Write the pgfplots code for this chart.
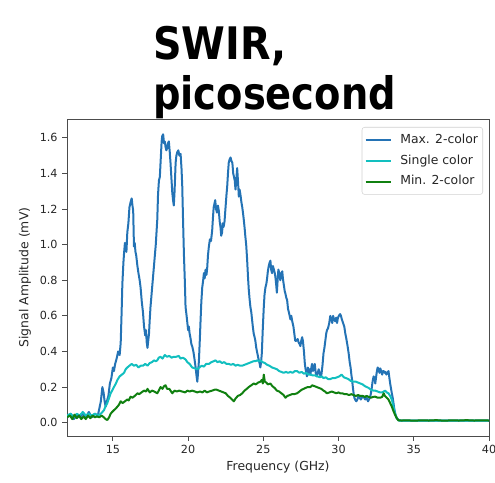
\documentclass[border=0pt]{standalone}
\usepackage{pgfplots}
\pgfplotsset{compat=1.18}
\usepackage{fontspec}
\setmainfont{DejaVu Sans}
\usepackage{graphicx}
\definecolor{cmax}{HTML}{2473B5}
\definecolor{csingle}{HTML}{12BFBF}
\definecolor{cmin}{HTML}{108010}
\definecolor{spine}{gray}{0.3}
\begin{document}
\begin{tikzpicture}
\begin{axis}[
  scale only axis,
  width=316.5pt, height=237.75pt,
  xmin=11.95, xmax=40, ymin=-0.075, ymax=1.706,
  xtick={15,20,25,30,35,40},
  ytick={0,0.2,0.4,0.6,0.8,1.0,1.2,1.4,1.6},
  yticklabel style={/pgf/number format/.cd, fixed, fixed zerofill, precision=1},
  /pgf/number format/assume math mode=true,
  tick label style={font=\fontsize{8.4}{10}\selectfont, text=black!85},
  label style={font=\fontsize{9.3}{11}\selectfont, text=black!85},
  xtick pos=bottom, ytick pos=left,
  tick align=outside,
  major tick length=3.5pt,
  every tick/.style={spine, line width=0.6pt},
  axis line style={spine, line width=0.7pt},
  xlabel={Frequency (GHz)},
  ylabel={Signal Amplitude (mV)},
  xlabel style={at={(axis description cs:0.5,-0.109)}, anchor=base},
  ylabel style={at={(axis description cs:-0.0995,0.5)}, anchor=center, rotate=0},
  legend style={at={(rel axis cs:0.9858,0.9748)}, anchor=north east,
    draw=black!18, rounded corners=2pt, fill=white,
    font=\fontsize{9.3}{11}\selectfont, text=black!85,
    inner xsep=2pt, inner ysep=3.5pt, row sep=3.4pt,
    nodes={inner sep=1.5pt, text height=7pt, text depth=2.2pt}},
  legend cell align=left,
  /tikz/every odd column/.append style={column sep=5pt},
  legend image code/.code={\draw[#1] (0pt,0pt) -- (18.75pt,0pt);},
  every axis plot/.append style={line width=1.5pt, line join=round},
]
\addplot[cmax] coordinates {
(11.95,0.03)(12.2,0.05)(12.4,0.02)(12.6,0.04)(12.8,0.03)(13.0,0.05)(13.2,0.03)(13.4,0.06)(13.6,0.03)(13.8,0.05)
(14.0,0.04)(14.1,0.08)(14.2,0.12)(14.3,0.20)(14.38,0.17)(14.45,0.12)(14.52,0.09)(14.6,0.12)(14.7,0.15)(14.8,0.22)
(14.9,0.25)(15.0,0.31)(15.07,0.29)(15.15,0.33)(15.25,0.36)(15.35,0.40)(15.45,0.38)(15.52,0.45)(15.58,0.62)(15.63,0.78)
(15.7,0.90)(15.74,0.95)(15.8,1.01)(15.85,0.98)(15.9,0.96)(15.96,1.07)(16.03,1.12)(16.1,1.21)(16.18,1.24)(16.25,1.26)
(16.3,1.22)(16.35,1.19)(16.4,0.99)(16.45,1.01)(16.5,0.96)(16.55,0.94)(16.63,0.88)(16.7,0.84)(16.78,0.80)(16.84,0.76)
(16.92,0.68)(17.0,0.62)(17.07,0.54)(17.15,0.49)(17.2,0.52)(17.25,0.45)(17.3,0.42)(17.35,0.46)(17.4,0.50)(17.45,0.58)
(17.5,0.65)(17.6,0.75)(17.73,0.88)(17.85,1.00)(17.95,1.14)(18.0,1.28)(18.06,1.36)(18.12,1.38)(18.18,1.48)(18.24,1.58)
(18.28,1.61)(18.34,1.62)(18.4,1.57)(18.45,1.58)(18.5,1.55)(18.55,1.53)(18.6,1.54)(18.66,1.57)(18.72,1.58)(18.78,1.52)
(18.83,1.46)(18.9,1.36)(18.95,1.29)(19.0,1.25)(19.05,1.22)(19.1,1.30)(19.17,1.46)(19.22,1.50)(19.28,1.52)(19.35,1.53)
(19.42,1.50)(19.5,1.51)(19.56,1.43)(19.61,1.33)(19.66,1.15)(19.72,0.95)(19.78,0.80)(19.83,0.65)(19.9,0.60)(19.95,0.56)
(20.0,0.52)(20.05,0.54)(20.1,0.50)(20.15,0.48)(20.22,0.44)(20.27,0.43)(20.35,0.40)(20.42,0.36)(20.5,0.31)(20.55,0.27)
(20.61,0.23)(20.66,0.28)(20.72,0.35)(20.78,0.47)(20.83,0.58)(20.88,0.68)(20.94,0.76)(21.0,0.80)(21.05,0.84)(21.1,0.81)
(21.16,0.86)(21.22,0.83)(21.27,0.87)(21.32,0.94)(21.38,0.99)(21.45,1.03)(21.52,1.02)(21.6,1.08)(21.65,1.15)(21.7,1.21)
(21.75,1.23)(21.8,1.25)(21.86,1.20)(21.92,1.18)(21.98,1.22)(22.04,1.19)(22.1,1.13)(22.15,1.10)(22.2,1.05)(22.26,1.07)
(22.3,1.12)(22.36,1.10)(22.42,1.13)(22.48,1.20)(22.55,1.28)(22.6,1.33)(22.65,1.40)(22.7,1.46)(22.76,1.48)(22.82,1.49)
(22.88,1.47)(22.94,1.46)(23.0,1.40)(23.05,1.38)(23.1,1.36)(23.15,1.31)(23.2,1.36)(23.26,1.43)(23.32,1.35)(23.37,1.27)
(23.42,1.31)(23.48,1.28)(23.54,1.24)(23.6,1.21)(23.66,1.17)(23.7,1.14)(23.76,1.09)(23.8,1.05)(23.86,1.00)(23.92,0.92)
(23.98,0.82)(24.03,0.75)(24.08,0.70)(24.14,0.65)(24.2,0.62)(24.25,0.58)(24.3,0.54)(24.36,0.50)(24.42,0.48)(24.47,0.46)
(24.53,0.42)(24.6,0.39)(24.65,0.37)(24.7,0.35)(24.76,0.33)(24.8,0.31)(24.85,0.34)(24.9,0.39)(24.96,0.52)(25.03,0.65)
(25.08,0.72)(25.14,0.76)(25.2,0.78)(25.25,0.81)(25.3,0.85)(25.36,0.88)(25.42,0.90)(25.47,0.91)(25.52,0.86)(25.58,0.84)
(25.64,0.88)(25.7,0.86)(25.76,0.84)(25.8,0.82)(25.86,0.77)(25.9,0.73)(25.95,0.80)(26.0,0.86)(26.06,0.84)(26.13,0.80)
(26.2,0.84)(26.26,0.85)(26.3,0.81)(26.35,0.78)(26.42,0.74)(26.48,0.72)(26.53,0.70)(26.58,0.69)(26.64,0.64)(26.7,0.62)
(26.75,0.60)(26.8,0.58)(26.86,0.60)(26.92,0.57)(27.0,0.54)(27.06,0.50)(27.12,0.46)(27.2,0.46)(27.28,0.47)(27.35,0.45)
(27.42,0.44)(27.46,0.43)(27.52,0.46)(27.58,0.48)(27.63,0.46)(27.7,0.40)(27.75,0.34)(27.79,0.31)(27.85,0.28)(27.9,0.26)
(27.96,0.31)(28.02,0.28)(28.08,0.30)(28.13,0.27)(28.19,0.31)(28.24,0.33)(28.3,0.29)(28.36,0.31)(28.42,0.33)(28.48,0.28)
(28.55,0.26)(28.62,0.28)(28.68,0.30)(28.74,0.28)(28.8,0.26)(28.86,0.27)(28.93,0.32)(29.0,0.39)(29.06,0.42)(29.12,0.46)
(29.18,0.50)(29.23,0.52)(29.3,0.53)(29.38,0.56)(29.45,0.60)(29.52,0.58)(29.58,0.56)(29.64,0.60)(29.7,0.58)(29.78,0.57)
(29.84,0.59)(29.9,0.56)(29.96,0.59)(30.02,0.60)(30.1,0.61)(30.16,0.60)(30.22,0.58)(30.3,0.56)(30.38,0.54)(30.45,0.50)
(30.52,0.47)(30.6,0.43)(30.67,0.39)(30.74,0.34)(30.8,0.31)(30.85,0.27)(30.9,0.24)(30.95,0.20)(31.0,0.165)(31.05,0.14)
(31.1,0.13)(31.18,0.12)(31.25,0.13)(31.32,0.15)(31.4,0.14)(31.48,0.13)(31.55,0.14)(31.62,0.15)(31.7,0.14)(31.77,0.13)
(31.84,0.15)(31.9,0.13)(31.96,0.12)(32.02,0.13)(32.08,0.14)(32.14,0.16)(32.2,0.19)(32.26,0.23)(32.33,0.26)(32.4,0.25)
(32.44,0.22)(32.5,0.26)(32.55,0.29)(32.6,0.31)(32.66,0.30)(32.72,0.28)(32.77,0.305)(32.83,0.29)(32.9,0.27)(32.95,0.29)
(33.0,0.29)(33.06,0.28)(33.12,0.285)(33.18,0.27)(33.25,0.28)(33.32,0.29)(33.38,0.25)(33.43,0.22)(33.49,0.19)(33.54,0.165)
(33.6,0.14)(33.65,0.11)(33.7,0.08)(33.76,0.053)(33.82,0.035)(33.88,0.025)(33.95,0.018)(34.1,0.011)(35,0.012)(37,0.012)(40,0.012)
};
\addlegendentry{Max. 2-color}
\addplot[csingle] coordinates {
(11.95,0.04)(12.2,0.05)(12.4,0.03)(12.6,0.05)(12.8,0.04)(13.0,0.06)(13.2,0.04)(13.4,0.05)(13.6,0.04)(13.8,0.05)
(14.0,0.04)(14.2,0.05)(14.41,0.07)(14.5,0.09)(14.63,0.11)(14.75,0.14)(14.85,0.165)(14.95,0.18)(15.07,0.20)(15.2,0.22)
(15.3,0.24)(15.45,0.26)(15.6,0.27)(15.74,0.28)(15.85,0.30)(15.96,0.31)(16.1,0.32)(16.25,0.33)(16.4,0.32)(16.55,0.325)
(16.7,0.31)(16.85,0.32)(17.0,0.32)(17.15,0.33)(17.3,0.32)(17.45,0.335)(17.6,0.34)(17.73,0.35)(17.85,0.345)(17.95,0.35)
(18.05,0.365)(18.17,0.37)(18.3,0.36)(18.45,0.38)(18.6,0.37)(18.75,0.375)(18.9,0.365)(19.05,0.37)(19.2,0.37)(19.38,0.375)
(19.5,0.36)(19.65,0.365)(19.83,0.355)(19.95,0.34)(20.1,0.33)(20.27,0.31)(20.45,0.305)(20.61,0.30)(20.75,0.31)(20.9,0.32)
(21.05,0.315)(21.2,0.33)(21.38,0.33)(21.55,0.34)(21.7,0.345)(21.82,0.35)(21.95,0.34)(22.1,0.345)(22.25,0.335)(22.4,0.34)
(22.55,0.33)(22.7,0.33)(22.85,0.325)(23.0,0.33)(23.15,0.32)(23.3,0.325)(23.45,0.32)(23.6,0.32)(23.75,0.325)(23.9,0.33)
(24.05,0.335)(24.2,0.34)(24.35,0.345)(24.47,0.345)(24.6,0.35)(24.72,0.345)(24.8,0.35)(24.95,0.34)(25.1,0.335)(25.25,0.325)
(25.4,0.32)(25.58,0.31)(25.75,0.305)(25.9,0.30)(26.05,0.29)(26.2,0.285)(26.35,0.28)(26.5,0.285)(26.65,0.28)(26.8,0.285)
(26.95,0.28)(27.1,0.29)(27.24,0.29)(27.4,0.28)(27.55,0.285)(27.7,0.275)(27.85,0.28)(28.0,0.27)(28.13,0.27)(28.3,0.265)
(28.45,0.265)(28.6,0.26)(28.75,0.255)(28.9,0.26)(29.0,0.25)(29.15,0.255)(29.3,0.245)(29.45,0.245)(29.6,0.25)(29.75,0.25)
(29.9,0.255)(30.05,0.26)(30.2,0.27)(30.35,0.255)(30.5,0.25)(30.65,0.245)(30.8,0.235)(31.0,0.23)(31.15,0.23)(31.3,0.225)
(31.45,0.22)(31.6,0.215)(31.75,0.205)(31.88,0.20)(32.0,0.195)(32.15,0.185)(32.33,0.18)(32.44,0.18)(32.6,0.175)(32.75,0.17)
(32.9,0.17)(33.0,0.175)(33.1,0.18)(33.2,0.17)(33.32,0.165)(33.43,0.15)(33.54,0.13)(33.65,0.09)(33.76,0.05)(33.87,0.025)
(33.98,0.013)(34.1,0.011)(35,0.012)(37,0.012)(40,0.012)
};
\addlegendentry{Single color}
\addplot[cmin] coordinates {
(11.95,0.03)(12.15,0.04)(12.3,0.02)(12.45,0.045)(12.6,0.025)(12.75,0.04)(12.9,0.02)(13.05,0.035)(13.2,0.02)(13.35,0.04)
(13.5,0.025)(13.65,0.04)(13.8,0.03)(13.95,0.035)(14.1,0.03)(14.25,0.04)(14.4,0.03)(14.52,0.02)(14.63,0.015)(14.75,0.03)
(14.85,0.05)(14.95,0.06)(15.07,0.07)(15.2,0.08)(15.3,0.09)(15.4,0.10)(15.52,0.12)(15.65,0.11)(15.8,0.12)(15.96,0.13)
(16.05,0.125)(16.18,0.146)(16.3,0.14)(16.45,0.15)(16.63,0.165)(16.75,0.16)(16.9,0.17)(17.07,0.18)(17.2,0.175)(17.3,0.19)
(17.45,0.17)(17.6,0.18)(17.75,0.175)(17.95,0.165)(18.05,0.18)(18.17,0.20)(18.3,0.19)(18.4,0.205)(18.5,0.21)(18.6,0.19)
(18.75,0.19)(18.95,0.165)(19.1,0.18)(19.25,0.175)(19.4,0.18)(19.6,0.175)(19.8,0.17)(19.95,0.18)(20.1,0.175)(20.27,0.18)
(20.45,0.175)(20.6,0.17)(20.8,0.175)(20.95,0.17)(21.1,0.18)(21.25,0.17)(21.4,0.175)(21.6,0.18)(21.75,0.185)(21.9,0.185)
(22.05,0.18)(22.2,0.175)(22.35,0.17)(22.5,0.165)(22.65,0.15)(22.8,0.14)(22.92,0.13)(23.04,0.12)(23.15,0.135)(23.3,0.15)
(23.45,0.155)(23.6,0.165)(23.75,0.18)(23.9,0.19)(24.03,0.20)(24.2,0.21)(24.36,0.22)(24.5,0.215)(24.65,0.225)(24.8,0.23)
(24.9,0.24)(24.97,0.22)(25.03,0.27)(25.1,0.23)(25.2,0.225)(25.3,0.215)(25.47,0.22)(25.6,0.205)(25.75,0.195)(25.9,0.18)
(26.05,0.175)(26.2,0.165)(26.35,0.155)(26.47,0.14)(26.6,0.15)(26.75,0.155)(26.9,0.16)(27.05,0.16)(27.24,0.165)(27.4,0.175)
(27.55,0.185)(27.68,0.19)(27.8,0.195)(27.95,0.20)(28.13,0.20)(28.25,0.21)(28.4,0.205)(28.55,0.20)(28.7,0.195)(28.85,0.19)
(29.0,0.18)(29.1,0.175)(29.23,0.165)(29.4,0.17)(29.55,0.175)(29.7,0.17)(29.85,0.165)(30.0,0.17)(30.1,0.165)(30.25,0.165)
(30.4,0.16)(30.55,0.16)(30.7,0.155)(30.85,0.16)(31.0,0.155)(31.15,0.15)(31.3,0.155)(31.45,0.15)(31.6,0.15)(31.75,0.145)
(31.88,0.15)(32.0,0.145)(32.15,0.14)(32.3,0.145)(32.44,0.146)(32.6,0.14)(32.77,0.14)(32.9,0.145)(33.0,0.165)(33.08,0.15)
(33.2,0.14)(33.32,0.13)(33.43,0.11)(33.54,0.09)(33.65,0.065)(33.76,0.043)(33.87,0.025)(33.98,0.013)(34.2,0.012)(34.6,0.013)
(35.0,0.011)(35.5,0.013)(36.0,0.012)(36.5,0.014)(37.0,0.011)(37.5,0.013)(38.0,0.012)(38.5,0.014)(39.0,0.012)(39.5,0.013)(40.0,0.012)
};
\addlegendentry{Min. 2-color}
\end{axis}
\node[anchor=base west, inner sep=0, font=\bfseries\fontsize{32}{36}\selectfont]
  at ([xshift=64.5pt, yshift=44.25pt]current axis.north west) {\scalebox{0.93}[1.05]{SWIR,}};
\node[anchor=base west, inner sep=0, font=\bfseries\fontsize{32}{36}\selectfont]
  at ([xshift=64.5pt, yshift=6.75pt]current axis.north west) {\scalebox{0.9}[1.05]{picosecond}};
\pgfresetboundingbox
\path[use as bounding box] ([xshift=-50.25pt, yshift=-34.5pt]current axis.south west)
  rectangle ([xshift=4.5pt, yshift=89.25pt]current axis.north east);
\end{tikzpicture}
\end{document}
